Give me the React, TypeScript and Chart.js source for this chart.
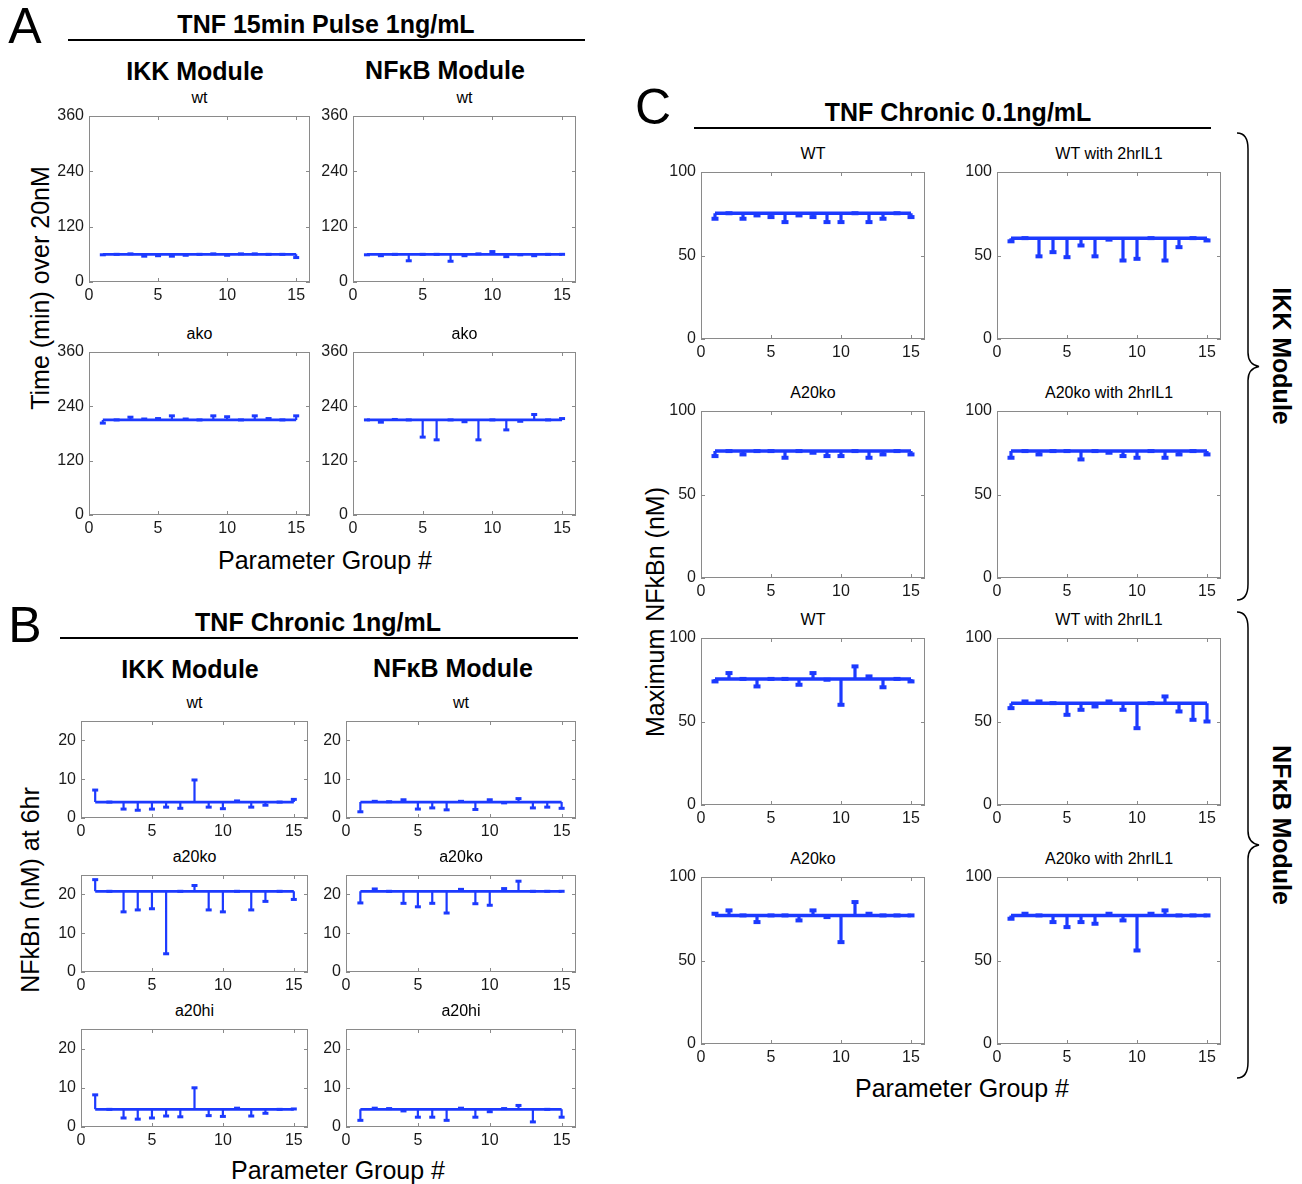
import React, { useEffect, useRef } from 'react';
import { Chart, registerables } from 'chart.js';

Chart.register(...registerables);

const FONT = '"Liberation Sans", Arial, Helvetica, sans-serif';
const BLUE = '#1c3aff';

// ---------- shared axes ----------
const PARAM_GROUPS = [1, 2, 3, 4, 5, 6, 7, 8, 9, 10, 11, 12, 13, 14, 15];
const X_TICKS = [0, 5, 10, 15];
const X_MAX = 16;
const A_Y_TICKS = [0, 120, 240, 360];
const A_Y_MAX = 360;
const B_Y_TICKS = [0, 10, 20];
const B_Y_MAX = 25;
const C_Y_TICKS = [0, 50, 100];
const C_Y_MAX = 100;

// ---------- Panel A: TNF 15min Pulse 1ng/mL, time (min) over 20nM ----------
const A_IKK_WT_BASE = 60;
const A_IKK_WT = [59, 60, 61, 56, 57, 56, 58, 60, 61, 58, 61, 61, 60, 60, 53];
const A_NFKB_WT_BASE = 60;
const A_NFKB_WT = [59, 57, 60, 46, 60, 60, 45, 57, 61, 66, 55, 59, 57, 60, 60];
const A_IKK_AKO_BASE = 210;
const A_IKK_AKO = [203, 210, 216, 212, 213, 219, 212, 210, 219, 217, 210, 219, 213, 210, 219];
const A_NFKB_AKO_BASE = 210;
const A_NFKB_AKO = [210, 205, 211, 210, 172, 166, 210, 206, 166, 210, 188, 207, 222, 210, 213];

// ---------- Panel B: TNF Chronic 1ng/mL, NFkBn (nM) at 6hr ----------
const B_IKK_WT_BASE = 4.1;
const B_IKK_WT = [7.2, 4.1, 2.3, 2.0, 2.3, 2.8, 2.5, 9.8, 2.8, 2.4, 4.4, 2.8, 3.3, 4.1, 4.8];
const B_NFKB_WT_BASE = 4.1;
const B_NFKB_WT = [1.6, 4.3, 4.2, 4.7, 2.3, 2.6, 2.1, 4.3, 2.2, 4.7, 3.9, 5.0, 2.6, 2.8, 2.5];
const B_IKK_A20KO_BASE = 20.8;
const B_IKK_A20KO = [23.8, 20.8, 15.5, 16.0, 16.3, 4.7, 20.8, 22.3, 16.0, 15.5, 20.8, 16.0, 18.2, 20.8, 18.7];
const B_NFKB_A20KO_BASE = 20.8;
const B_NFKB_A20KO = [17.8, 21.4, 20.8, 17.7, 16.8, 17.7, 15.2, 21.3, 17.6, 17.2, 21.5, 23.4, 20.8, 20.8, 20.8];
const B_IKK_A20HI_BASE = 4.5;
const B_IKK_A20HI = [8.2, 4.5, 2.3, 2.0, 2.3, 2.8, 2.6, 10.0, 2.9, 2.7, 4.8, 2.8, 3.5, 4.5, 4.6];
const B_NFKB_A20HI_BASE = 4.5;
const B_NFKB_A20HI = [1.7, 4.8, 4.7, 4.1, 2.5, 2.5, 1.7, 4.8, 2.5, 3.9, 4.7, 5.5, 1.3, 4.5, 2.5];

// ---------- Panel C: TNF Chronic 0.1ng/mL, Maximum NFkBn (nM) ----------
const C_IKK_WT_BASE = 75.3;
const C_IKK_WT = [72, 75.3, 72, 74, 73, 70, 74, 73, 70, 70, 75.3, 70, 72, 75.3, 73];
const C_IKK_WT_IL1_BASE = 60.4;
const C_IKK_WT_IL1 = [58.5, 60.4, 49.5, 52, 49, 56, 49.5, 59.5, 47, 48, 60.4, 47, 55, 60.4, 59];
const C_IKK_A20KO_BASE = 76;
const C_IKK_A20KO = [73, 76, 74, 76, 76, 72, 76, 75, 73, 73, 76, 72, 74, 76, 74];
const C_IKK_A20KO_IL1_BASE = 76;
const C_IKK_A20KO_IL1 = [72, 76, 74, 76, 76, 71, 76, 75, 73, 72, 76, 72, 74, 76, 74];
const C_NFKB_WT_BASE = 75.5;
const C_NFKB_WT = [74, 79, 75.5, 71, 75.5, 75.5, 72, 79, 75, 60, 83, 77, 70.5, 75.5, 74];
const C_NFKB_WT_IL1_BASE = 61;
const C_NFKB_WT_IL1 = [58, 62, 62, 61, 54, 57, 59, 62, 57, 46, 61, 65, 56, 51, 50];
const C_NFKB_A20KO_BASE = 77;
const C_NFKB_A20KO = [78, 80, 77, 73, 77, 77, 74, 80, 76, 61, 85, 78, 77, 77, 77];
const C_NFKB_A20KO_IL1_BASE = 77;
const C_NFKB_A20KO_IL1 = [75, 78, 77, 73, 70, 73, 72, 78, 74, 56, 78, 80, 77, 77, 77];

type Spec = {
  title: string;
  box: [number, number, number, number]; // left, top, right, bottom (page px)
  base: number;
  values: number[];
  yMax: number;
  yTicks: number[];
  heavy: boolean;
};

const SPECS: Spec[] = [
  { title: 'wt', box: [89, 116, 310, 282], base: A_IKK_WT_BASE, values: A_IKK_WT, yMax: A_Y_MAX, yTicks: A_Y_TICKS, heavy: false },
  { title: 'wt', box: [353, 116, 576, 282], base: A_NFKB_WT_BASE, values: A_NFKB_WT, yMax: A_Y_MAX, yTicks: A_Y_TICKS, heavy: false },
  { title: 'ako', box: [89, 352, 310, 515], base: A_IKK_AKO_BASE, values: A_IKK_AKO, yMax: A_Y_MAX, yTicks: A_Y_TICKS, heavy: false },
  { title: 'ako', box: [353, 352, 576, 515], base: A_NFKB_AKO_BASE, values: A_NFKB_AKO, yMax: A_Y_MAX, yTicks: A_Y_TICKS, heavy: false },

  { title: 'wt', box: [81, 721, 308, 818], base: B_IKK_WT_BASE, values: B_IKK_WT, yMax: B_Y_MAX, yTicks: B_Y_TICKS, heavy: false },
  { title: 'wt', box: [346, 721, 576, 818], base: B_NFKB_WT_BASE, values: B_NFKB_WT, yMax: B_Y_MAX, yTicks: B_Y_TICKS, heavy: false },
  { title: 'a20ko', box: [81, 875, 308, 972], base: B_IKK_A20KO_BASE, values: B_IKK_A20KO, yMax: B_Y_MAX, yTicks: B_Y_TICKS, heavy: false },
  { title: 'a20ko', box: [346, 875, 576, 972], base: B_NFKB_A20KO_BASE, values: B_NFKB_A20KO, yMax: B_Y_MAX, yTicks: B_Y_TICKS, heavy: false },
  { title: 'a20hi', box: [81, 1029, 308, 1127], base: B_IKK_A20HI_BASE, values: B_IKK_A20HI, yMax: B_Y_MAX, yTicks: B_Y_TICKS, heavy: false },
  { title: 'a20hi', box: [346, 1029, 576, 1127], base: B_NFKB_A20HI_BASE, values: B_NFKB_A20HI, yMax: B_Y_MAX, yTicks: B_Y_TICKS, heavy: false },

  { title: 'WT', box: [701, 172, 925, 339], base: C_IKK_WT_BASE, values: C_IKK_WT, yMax: C_Y_MAX, yTicks: C_Y_TICKS, heavy: true },
  { title: 'WT with 2hrIL1', box: [997, 172, 1221, 339], base: C_IKK_WT_IL1_BASE, values: C_IKK_WT_IL1, yMax: C_Y_MAX, yTicks: C_Y_TICKS, heavy: true },
  { title: 'A20ko', box: [701, 411, 925, 578], base: C_IKK_A20KO_BASE, values: C_IKK_A20KO, yMax: C_Y_MAX, yTicks: C_Y_TICKS, heavy: true },
  { title: 'A20ko with 2hrIL1', box: [997, 411, 1221, 578], base: C_IKK_A20KO_IL1_BASE, values: C_IKK_A20KO_IL1, yMax: C_Y_MAX, yTicks: C_Y_TICKS, heavy: true },
  { title: 'WT', box: [701, 638, 925, 805], base: C_NFKB_WT_BASE, values: C_NFKB_WT, yMax: C_Y_MAX, yTicks: C_Y_TICKS, heavy: true },
  { title: 'WT with 2hrIL1', box: [997, 638, 1221, 805], base: C_NFKB_WT_IL1_BASE, values: C_NFKB_WT_IL1, yMax: C_Y_MAX, yTicks: C_Y_TICKS, heavy: true },
  { title: 'A20ko', box: [701, 877, 925, 1044], base: C_NFKB_A20KO_BASE, values: C_NFKB_A20KO, yMax: C_Y_MAX, yTicks: C_Y_TICKS, heavy: true },
  { title: 'A20ko with 2hrIL1', box: [997, 877, 1221, 1044], base: C_NFKB_A20KO_IL1_BASE, values: C_NFKB_A20KO_IL1, yMax: C_Y_MAX, yTicks: C_Y_TICKS, heavy: true },
];

const PAD_L = 44;
const PAD_T = 16;
const PAD_R = 8;
const PAD_B = 26;

const boxPlugin = {
  id: 'matlabBox',
  beforeDatasetsDraw(chart: any) {
    const { ctx, chartArea: a, scales } = chart;
    ctx.save();
    ctx.strokeStyle = '#8a8a8a';
    ctx.lineWidth = 1;
    ctx.strokeRect(a.left + 0.5, a.top + 0.5, a.right - a.left - 1, a.bottom - a.top - 1);
    ctx.beginPath();
    for (const t of scales.x.ticks) {
      const px = Math.round(scales.x.getPixelForValue(t.value)) + 0.5;
      ctx.moveTo(px, a.bottom);
      ctx.lineTo(px, a.bottom - 4);
      ctx.moveTo(px, a.top);
      ctx.lineTo(px, a.top + 4);
    }
    for (const t of scales.y.ticks) {
      const py = Math.round(scales.y.getPixelForValue(t.value)) + 0.5;
      ctx.moveTo(a.left, py);
      ctx.lineTo(a.left + 4, py);
      ctx.moveTo(a.right, py);
      ctx.lineTo(a.right - 4, py);
    }
    ctx.stroke();
    ctx.restore();
  },
};

function StemChart({ spec }: { spec: Spec }) {
  const ref = useRef<HTMLCanvasElement | null>(null);
  const [x0, y0, x1, y1] = spec.box;
  const w = x1 - x0 + PAD_L + PAD_R;
  const h = y1 - y0 + PAD_T + PAD_B;

  useEffect(() => {
    if (!ref.current) return;
    const stems: any[] = [];
    PARAM_GROUPS.forEach((g, i) => {
      stems.push({ x: g, y: spec.base });
      stems.push({ x: g, y: spec.values[i] });
      stems.push({ x: g, y: null });
    });
    const markers = PARAM_GROUPS.map((g, i) => ({ x: g, y: spec.values[i] }));
    const baseline = [
      { x: PARAM_GROUPS[0], y: spec.base },
      { x: PARAM_GROUPS[PARAM_GROUPS.length - 1], y: spec.base },
    ];
    const tickFont = { family: FONT, size: 16 };
    const chart = new Chart(ref.current, {
      type: 'line',
      data: {
        datasets: [
          { data: stems, borderColor: BLUE, borderWidth: spec.heavy ? 3.2 : 2.2, pointRadius: 0, spanGaps: false },
          { data: baseline, borderColor: BLUE, borderWidth: spec.heavy ? 3.5 : 2.8, pointRadius: 0 },
          {
            data: markers,
            showLine: false,
            pointStyle: 'line',
            pointRadius: spec.heavy ? 3.5 : 3,
            pointBorderWidth: spec.heavy ? 4 : 3,
            pointBorderColor: BLUE,
            pointBackgroundColor: BLUE,
          },
        ] as any,
      },
      options: {
        responsive: false,
        animation: false,
        events: [],
        layout: { padding: { left: 0, top: PAD_T, right: PAD_R, bottom: 0 } },
        plugins: { legend: { display: false }, tooltip: { enabled: false } },
        scales: {
          x: {
            type: 'linear',
            min: 0,
            max: X_MAX,
            offset: false,
            grid: { display: false, drawTicks: false },
            border: { display: false },
            afterBuildTicks: (s: any) => {
              s.ticks = X_TICKS.map((v) => ({ value: v }));
            },
            afterFit: (s: any) => {
              s.height = PAD_B;
            },
            ticks: { font: tickFont, color: '#1a1a1a', padding: 4, maxRotation: 0, autoSkip: false },
          },
          y: {
            type: 'linear',
            min: 0,
            max: spec.yMax,
            grid: { display: false, drawTicks: false },
            border: { display: false },
            afterBuildTicks: (s: any) => {
              s.ticks = spec.yTicks.map((v) => ({ value: v }));
            },
            afterFit: (s: any) => {
              s.width = PAD_L;
            },
            ticks: { font: tickFont, color: '#1a1a1a', padding: 5, autoSkip: false },
          },
        },
      } as any,
      plugins: [boxPlugin],
    });
    return () => chart.destroy();
  }, [spec]);

  return (
    <canvas
      ref={ref}
      width={w}
      height={h}
      style={{ position: 'absolute', left: x0 - PAD_L, top: y0 - PAD_T, width: w, height: h }}
    />
  );
}

function Txt({ x, y, text, size, bold, rot }: { x: number; y: number; text: string; size: number; bold?: boolean; rot?: number }) {
  return (
    <div
      style={{
        position: 'absolute',
        left: x,
        top: y,
        transform: `translate(-50%, -50%) rotate(${rot || 0}deg)`,
        fontFamily: FONT,
        fontSize: size,
        fontWeight: bold ? 700 : 400,
        whiteSpace: 'nowrap',
        lineHeight: 1,
        color: '#000',
      }}
    >
      {text}
    </div>
  );
}

function Rule({ x0, x1, y }: { x0: number; x1: number; y: number }) {
  return <div style={{ position: 'absolute', left: x0, top: y - 1, width: x1 - x0, height: 2, background: '#000' }} />;
}

function bracePath(x: number, yTop: number, yBot: number, tipX: number) {
  const mid = (yTop + yBot) / 2;
  const bx = x + 11;
  return [
    `M ${x} ${yTop}`,
    `Q ${bx} ${yTop} ${bx} ${yTop + 16}`,
    `L ${bx} ${mid - 14}`,
    `Q ${bx} ${mid - 2} ${tipX} ${mid}`,
    `Q ${bx} ${mid + 2} ${bx} ${mid + 14}`,
    `L ${bx} ${yBot - 16}`,
    `Q ${bx} ${yBot} ${x} ${yBot}`,
  ].join(' ');
}

export default function App() {
  return (
    <div style={{ position: 'absolute', left: 0, top: 0, width: 1302, height: 1184, background: '#fff', overflow: 'hidden' }}>
      {/* Panel A */}
      <Txt x={25} y={26} text="A" size={50} />
      <Txt x={326} y={24} text="TNF 15min Pulse 1ng/mL" size={25} bold />
      <Rule x0={68} x1={585} y={40} />
      <Txt x={195} y={71} text="IKK Module" size={25} bold />
      <Txt x={445} y={70} text="NFκB Module" size={25} bold />
      <Txt x={40} y={288} text="Time (min) over 20nM" size={25} rot={-90} />
      <Txt x={325} y={560} text="Parameter Group #" size={25} />

      {/* Panel B */}
      <Txt x={25} y={625} text="B" size={50} />
      <Txt x={318} y={622} text="TNF Chronic 1ng/mL" size={25} bold />
      <Rule x0={60} x1={578} y={638} />
      <Txt x={190} y={669} text="IKK Module" size={25} bold />
      <Txt x={453} y={668} text="NFκB Module" size={25} bold />
      <Txt x={30} y={890} text="NFkBn (nM) at 6hr" size={25} rot={-90} />
      <Txt x={338} y={1170} text="Parameter Group #" size={25} />

      {/* Panel C */}
      <Txt x={653} y={107} text="C" size={50} />
      <Txt x={958} y={112} text="TNF Chronic 0.1ng/mL" size={25} bold />
      <Rule x0={694} x1={1211} y={128} />
      <Txt x={655} y={612} text="Maximum NFkBn (nM)" size={25} rot={-90} />
      <Txt x={962} y={1088} text="Parameter Group #" size={25} />
      <Txt x={1281} y={356} text="IKK Module" size={25} bold rot={90} />
      <Txt x={1281} y={825} text="NFκB Module" size={25} bold rot={90} />
      <svg width={1302} height={1184} style={{ position: 'absolute', left: 0, top: 0, pointerEvents: 'none' }}>
        <path d={bracePath(1237, 133, 600, 1259)} fill="none" stroke="#000" strokeWidth={1.5} />
        <path d={bracePath(1237, 612, 1078, 1259)} fill="none" stroke="#000" strokeWidth={1.5} />
      </svg>

      {SPECS.map((s, i) => (
        <React.Fragment key={i}>
          <Txt x={(s.box[0] + s.box[2]) / 2} y={s.box[1] - 18} text={s.title} size={16} />
          <StemChart spec={s} />
        </React.Fragment>
      ))}
    </div>
  );
}
